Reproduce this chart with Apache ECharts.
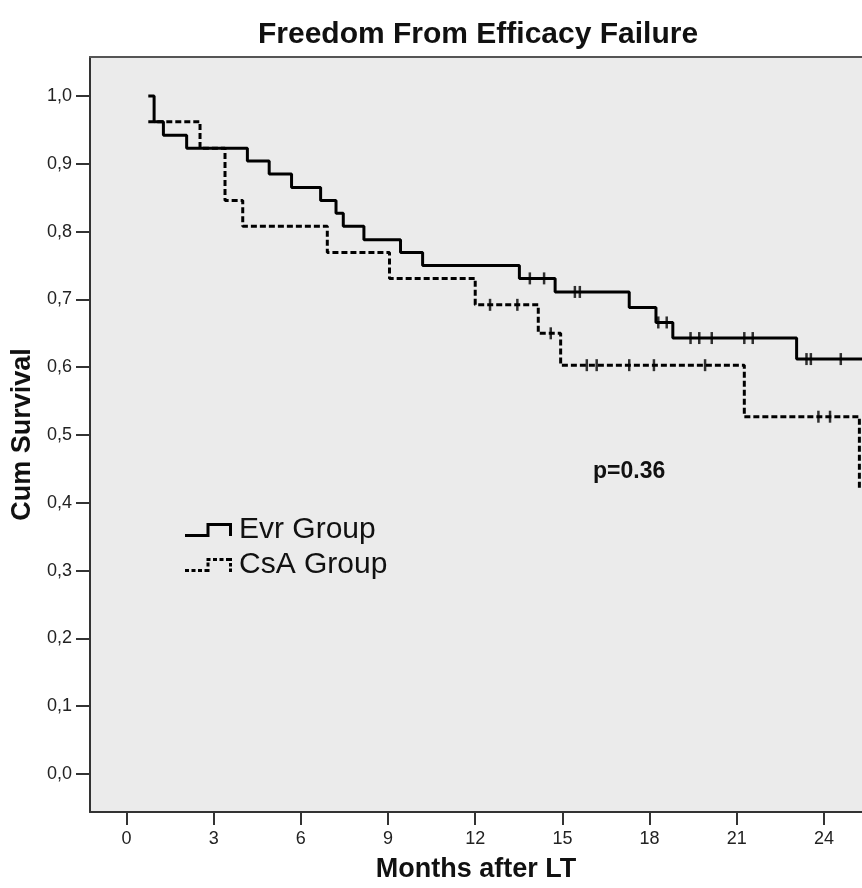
<!DOCTYPE html>
<html>
<head>
<meta charset="utf-8">
<script src="https://cdn.jsdelivr.net/npm/echarts@6/dist/echarts.min.js"></script>
<style>
html,body{margin:0;padding:0;background:#fff;}
#chart{width:862px;height:888px;}
</style>
</head>
<body>
<div id="chart"></div>
<script>
// Evr group: event times (months) and survival after each step
var evrTimes = [0.75, 0.95, 1.27, 2.07, 4.16, 4.91, 5.68, 6.68, 7.21, 7.46, 8.17, 9.43, 10.19, 13.52, 14.75, 17.3, 18.22, 18.8, 23.06, 25.6];
var evrSurv  = [1.0, 0.962, 0.942, 0.923, 0.904, 0.885, 0.865, 0.846, 0.827, 0.808, 0.788, 0.769, 0.750, 0.731, 0.711, 0.688, 0.666, 0.643, 0.612, 0.612];
// Evr censored observations
var evrCensTimes = [13.88, 14.37, 15.43, 15.6, 18.3, 18.59, 19.41, 19.71, 20.14, 21.26, 21.55, 23.4, 23.55, 24.58];
var evrCensSurv  = [0.731, 0.731, 0.711, 0.711, 0.666, 0.666, 0.643, 0.643, 0.643, 0.643, 0.643, 0.612, 0.612, 0.612];

// CsA group
var csaTimes = [0.75, 2.53, 3.39, 4.0, 6.91, 9.05, 12.0, 14.17, 14.94, 21.26, 25.22];
var csaSurv  = [0.962, 0.923, 0.846, 0.808, 0.769, 0.731, 0.692, 0.650, 0.603, 0.527, 0.421];
var csaCensTimes = [12.51, 13.45, 14.6, 15.84, 16.18, 17.3, 18.15, 19.91, 23.81, 24.21];
var csaCensSurv  = [0.692, 0.692, 0.650, 0.603, 0.603, 0.603, 0.603, 0.603, 0.527, 0.527];

// Axis ticks
var xTicks = [0, 3, 6, 9, 12, 15, 18, 21, 24];
var yTicks = [0, 0.1, 0.2, 0.3, 0.4, 0.5, 0.6, 0.7, 0.8, 0.9, 1.0];

var seriesNames = ['Evr Group', 'CsA Group'];
var pText = 'p=0.36';

function zip(a, b) { return a.map(function (v, i) { return [v, b[i]]; }); }

var FONT = 'Liberation Sans, Arial, sans-serif';
var chart = echarts.init(document.getElementById('chart'), null, {renderer: 'canvas'});

var solidIcon = 'path://M0,11h24.5v3h-24.5z M21.5,0h3v14h-3z M21.5,0h25.5v3h-25.5z M44,0h3v13h-3z';
var dashIcon = 'path://M0,11h4v3h-4z M6.5,11h4v3h-4z M13,11h4v3h-4z M19.5,11h5v3h-5z M21.5,4.5h3v4h-3z M21.5,0h4v3h-4z M28,0h4v3h-4z M34.5,0h4v3h-4z M41,0h6v3h-6z M44,5h3v3.5h-3z M44,10.5h3v3.5h-3z';

var X_MIN = -1.256, X_MAX = 25.31;

chart.setOption({
  animation: false,
  backgroundColor: '#ffffff',
  title: [{
    text: 'Freedom From Efficacy Failure',
    left: 253, top: 15,
    textStyle: {fontFamily: FONT, fontSize: 30, fontWeight: 'bold', color: '#111'}
  }, {
    text: pText,
    left: 588, top: 455,
    textStyle: {fontFamily: FONT, fontSize: 23, fontWeight: 'bold', color: '#111'}
  }],
  legend: {
    orient: 'vertical',
    left: 180, top: 510,
    itemWidth: 47, itemHeight: 14, itemGap: 5,
    selectedMode: false,
    textStyle: {fontFamily: FONT, fontSize: 30, color: '#111', lineHeight: 30, padding: [0, 0, 0, 2]},
    data: [
      {name: seriesNames[0], icon: solidIcon, itemStyle: {color: '#000'}},
      {name: seriesNames[1], icon: dashIcon, itemStyle: {color: '#000'}}
    ]
  },
  grid: {
    left: 90, top: 57, right: 0, bottom: 76,
    show: true, backgroundColor: '#ebebeb', borderWidth: 0
  },
  xAxis: [{
    type: 'value', min: X_MIN, max: X_MAX,
    name: 'Months after LT', nameLocation: 'middle', nameGap: 44,
    nameTextStyle: {fontFamily: FONT, fontSize: 27, fontWeight: 'bold', color: '#111'},
    axisLine: {show: true, onZero: false, lineStyle: {color: '#333', width: 2}},
    axisTick: {show: true, customValues: xTicks, length: 13, lineStyle: {color: '#333', width: 2}},
    axisLabel: {customValues: xTicks, margin: 18, fontFamily: FONT, fontSize: 18, color: '#222'},
    splitLine: {show: false}
  }, {
    type: 'value', position: 'top', min: X_MIN, max: X_MAX,
    axisLine: {show: true, onZero: false, lineStyle: {color: '#555', width: 2}},
    axisTick: {show: false}, axisLabel: {show: false}, splitLine: {show: false}
  }],
  yAxis: {
    type: 'value', min: -0.056, max: 1.0575,
    name: 'Cum Survival', nameLocation: 'middle', nameGap: 50,
    nameTextStyle: {fontFamily: FONT, fontSize: 27, fontWeight: 'bold', color: '#111'},
    axisLine: {show: true, onZero: false, lineStyle: {color: '#333', width: 2}},
    axisTick: {show: true, customValues: yTicks, length: 14, lineStyle: {color: '#333', width: 2}},
    axisLabel: {customValues: yTicks, margin: 18, fontFamily: FONT, fontSize: 18, color: '#222',
      formatter: function (v) { return v.toFixed(1).replace('.', ','); }},
    splitLine: {show: false}
  },
  series: [{
    name: seriesNames[0], type: 'line', step: 'end', showSymbol: false,
    data: zip(evrTimes, evrSurv),
    lineStyle: {color: '#000', width: 3},
    itemStyle: {color: '#000'}
  }, {
    name: seriesNames[1], type: 'line', step: 'end', showSymbol: false,
    data: zip(csaTimes, csaSurv),
    lineStyle: {color: '#000', width: 3, type: [6, 3]},
    itemStyle: {color: '#000'}
  }, {
    name: 'Evr censored', type: 'scatter', symbol: 'rect', symbolSize: [2.5, 12],
    data: zip(evrCensTimes, evrCensSurv), itemStyle: {color: '#000'}
  }, {
    name: 'CsA censored', type: 'scatter', symbol: 'rect', symbolSize: [2.5, 12],
    data: zip(csaCensTimes, csaCensSurv), itemStyle: {color: '#000'}
  }]
});
</script>
</body>
</html>
